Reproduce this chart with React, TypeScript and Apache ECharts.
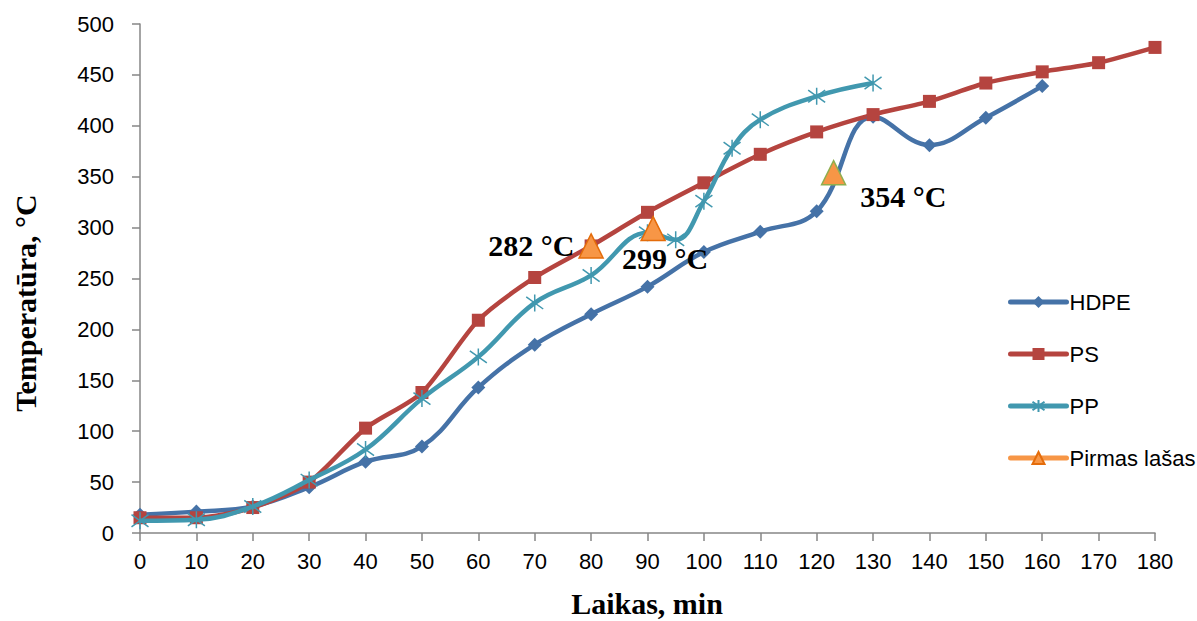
import React, { useEffect, useRef } from "react";
import * as echarts from "echarts";

const hdpeX = [0, 10, 20, 30, 40, 50, 60, 70, 80, 90, 100, 110, 120, 130, 140, 150, 160];
const hdpeY = [18, 21, 26, 45, 70, 85, 143, 185, 215, 242, 276, 296, 316, 409, 381, 408, 439];

const psX = [0, 10, 20, 30, 40, 50, 60, 70, 80, 90, 100, 110, 120, 130, 140, 150, 160, 170, 180];
const psY = [15, 15, 25, 50, 103, 138, 209, 251, 282, 315, 344, 372, 394, 411, 424, 442, 453, 462, 477];

const ppX = [0, 10, 20, 30, 40, 50, 60, 70, 80, 90, 95, 100, 105, 110, 120, 130];
const ppY = [12, 13, 26, 52, 82, 132, 173, 226, 253, 295, 288, 326, 378, 406, 429, 442];

const dropX = [80, 91, 123];
const dropY = [282, 299, 354];
const dropLabels = ["282 °C", "299 °C", "354 °C"];

const xTicks = { min: 0, max: 180, interval: 10 };
const yTicks = { min: 0, max: 500, interval: 50 };

const pairs = (xs: number[], ys: number[]) => xs.map((x, i) => [x, ys[i]]);

const STAR = "path://M0,0L10,10M10,0L0,10M5,-2L5,12";

export default function App() {
  const ref = useRef<HTMLDivElement>(null);
  useEffect(() => {
    if (!ref.current) return;
    const chart = echarts.init(ref.current, null, { renderer: "svg" });
    const labelFont = { fontFamily: "Liberation Serif", fontWeight: "bold" as const, fontSize: 30, color: "#000", lineHeight: 30 };
    const labelPos = [
      { position: "left", distance: 4, offset: [0, 0] },
      { position: "bottom", distance: 2, offset: [12, 0] },
      { position: "right", distance: 14, offset: [0, 24] },
    ];
    const borders = ["#E46C0A", "#E46C0A", "#8FAE4E"];
    chart.setOption({
      animation: false,
      grid: { left: 140, right: 42, top: 24, bottom: 88 },
      xAxis: {
        type: "value",
        min: xTicks.min,
        max: xTicks.max,
        interval: xTicks.interval,
        axisLine: { lineStyle: { color: "#868686", width: 1.5 } },
        axisTick: { show: true, length: 8, lineStyle: { color: "#868686", width: 1.5 } },
        axisLabel: { color: "#000", fontFamily: "Liberation Sans", fontSize: 22, margin: 17 },
        splitLine: { show: false },
      },
      yAxis: {
        type: "value",
        min: yTicks.min,
        max: yTicks.max,
        interval: yTicks.interval,
        axisLine: { show: true, lineStyle: { color: "#868686", width: 1.5 } },
        axisTick: { show: true, length: 8, lineStyle: { color: "#868686", width: 1.5 } },
        axisLabel: { color: "#000", fontFamily: "Liberation Sans", fontSize: 22, margin: 26 },
        splitLine: { show: false },
      },
      legend: {
        orient: "vertical",
        left: 1003,
        top: 286,
        itemWidth: 56,
        itemHeight: 15,
        itemGap: 30,
        lineStyle: { width: 5, cap: "round" },
        textStyle: { fontFamily: "Liberation Sans", fontSize: 22, color: "#000", lineHeight: 22, padding: [0, 0, 0, -2] },
        data: [
          { name: "HDPE" },
          { name: "PS" },
          { name: "PP" },
          { name: "Pirmas lašas", lineStyle: { width: 5, cap: "round", color: "#F79646", opacity: 1 } },
        ],
      },
      graphic: [
        {
          type: "text",
          x: 25,
          y: 303,
          rotation: Math.PI / 2,
          style: {
            text: "Temperatūra, °C",
            font: "bold 30px 'Liberation Serif'",
            fill: "#000",
            textAlign: "center",
            textVerticalAlign: "middle",
          },
        },
        {
          type: "text",
          x: 647,
          y: 603,
          style: {
            text: "Laikas, min",
            font: "bold 30px 'Liberation Serif'",
            fill: "#000",
            textAlign: "center",
            textVerticalAlign: "middle",
          },
        },
      ],
      series: [
        {
          name: "HDPE",
          type: "line",
          data: pairs(hdpeX, hdpeY),
          smooth: 0.4,
          symbol: "diamond",
          symbolSize: 14,
          color: "#4572A7",
          lineStyle: { width: 4.5, color: "#4572A7" },
          itemStyle: { color: "#4572A7" },
          z: 3,
        },
        {
          name: "PS",
          type: "line",
          data: pairs(psX, psY),
          smooth: 0.25,
          symbol: "rect",
          symbolSize: 13,
          color: "#B5443F",
          lineStyle: { width: 4.5, color: "#B5443F" },
          itemStyle: { color: "#B5443F" },
          z: 3,
        },
        {
          name: "PP",
          type: "line",
          data: pairs(ppX, ppY),
          smooth: 0.4,
          symbol: STAR,
          symbolSize: 17,
          color: "#4198AF",
          lineStyle: { width: 4.5, color: "#4198AF" },
          itemStyle: { color: "#4198AF", borderColor: "#4198AF", borderWidth: 1.5 },
          z: 4,
        },
        {
          name: "Pirmas lašas",
          type: "line",
          data: dropX.map((x, i) => ({
            value: [x, dropY[i]],
            itemStyle: { color: "#F79646", borderColor: borders[i], borderWidth: 1.5 },
            label: {
              show: true,
              formatter: dropLabels[i],
              ...labelFont,
              ...labelPos[i],
            },
          })),
          symbol: "triangle",
          symbolSize: 24,
          showAllSymbol: true,
          color: "#F79646",
          lineStyle: { width: 0, opacity: 0, color: "#F79646" },
          itemStyle: { color: "#F79646", borderColor: "#E46C0A", borderWidth: 1.5 },
          z: 6,
        },
      ],
    });
    return () => chart.dispose();
  }, []);
  return <div ref={ref} style={{ width: 1197, height: 621, position: "absolute", left: 0, top: 0 }} />;
}
